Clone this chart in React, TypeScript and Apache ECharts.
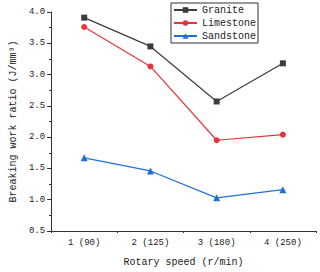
import React, { useEffect, useRef } from "react";
import * as echarts from "echarts";

const categories = ["1 (90)", "2 (125)", "3 (180)", "4 (250)"];
const granite = [3.91, 3.45, 2.57, 3.18];
const limestone = [3.76, 3.13, 1.95, 2.04];
const sandstone = [1.67, 1.46, 1.03, 1.16];

const FONT = "'Liberation Mono', 'Courier New', monospace";

export default function App() {
  const ref = useRef<HTMLDivElement>(null);
  useEffect(() => {
    const chart = echarts.init(ref.current!, null, { renderer: "svg" });
    chart.setOption({
      animation: false,
      backgroundColor: "#ffffff",
      textStyle: { fontFamily: FONT },
      grid: { left: 40, right: 4, top: 12, bottom: 37 },
      legend: {
        orient: "vertical",
        left: 171,
        top: 3,
        padding: [2, 2, 2, 2],
        itemGap: 3,
        itemWidth: 23,
        itemHeight: 7,
        borderColor: "#333",
        borderWidth: 1,
        borderRadius: 0,
        textStyle: { fontFamily: FONT, fontSize: 10, color: "#222" },
        data: ["Granite", "Limestone", "Sandstone"],
      },
      xAxis: [
        {
          type: "category",
          data: categories,
          boundaryGap: true,
          name: "Rotary speed (r/min)",
          nameLocation: "middle",
          nameGap: 26,
          nameTextStyle: { fontFamily: FONT, fontSize: 10, color: "#222" },
          axisLine: { lineStyle: { color: "#333", width: 1 } },
          axisTick: { alignWithLabel: true, length: 4, lineStyle: { color: "#333" } },
          axisLabel: { fontFamily: FONT, fontSize: 9, color: "#222", margin: 7 },
          splitLine: { show: false },
        },
        {
          type: "category",
          data: categories,
          position: "bottom",
          boundaryGap: true,
          axisLine: { show: false },
          axisTick: { show: true, length: 2, lineStyle: { color: "#333" } },
          axisLabel: { show: false },
          splitLine: { show: false },
        },
      ],
      yAxis: {
        type: "value",
        min: 0.5,
        max: 4.0,
        interval: 0.5,
        name: "Breaking work ratio (J/mm³)",
        nameLocation: "middle",
        nameGap: 30,
        nameTextStyle: { fontFamily: FONT, fontSize: 10, color: "#222" },
        axisLine: { show: true, lineStyle: { color: "#333", width: 1 } },
        axisTick: { show: true, length: 4, lineStyle: { color: "#333" } },
        minorTick: { show: true, splitNumber: 2, length: 2, lineStyle: { color: "#333" } },
        axisLabel: {
          fontFamily: FONT,
          fontSize: 9,
          color: "#222",
          margin: 6,
          formatter: (v: number) => v.toFixed(1),
        },
        splitLine: { show: false },
      },
      series: [
        {
          name: "Granite",
          type: "line",
          data: granite,
          symbol: "rect",
          symbolSize: 6,
          color: "#3c3c3c",
          lineStyle: { width: 1.2, color: "#3c3c3c" },
          itemStyle: { color: "#3c3c3c" },
        },
        {
          name: "Limestone",
          type: "line",
          data: limestone,
          symbol: "circle",
          symbolSize: 6,
          color: "#e8333b",
          lineStyle: { width: 1.2, color: "#e8333b" },
          itemStyle: { color: "#e8333b" },
        },
        {
          name: "Sandstone",
          type: "line",
          data: sandstone,
          symbol: "triangle",
          symbolSize: 7,
          color: "#1f6fd8",
          lineStyle: { width: 1.2, color: "#1f6fd8" },
          itemStyle: { color: "#1f6fd8" },
        },
      ],
    });
    return () => chart.dispose();
  }, []);
  return (
    <div
      ref={ref}
      style={{ position: "fixed", left: 0, top: 0, width: 320, height: 272 }}
    />
  );
}
